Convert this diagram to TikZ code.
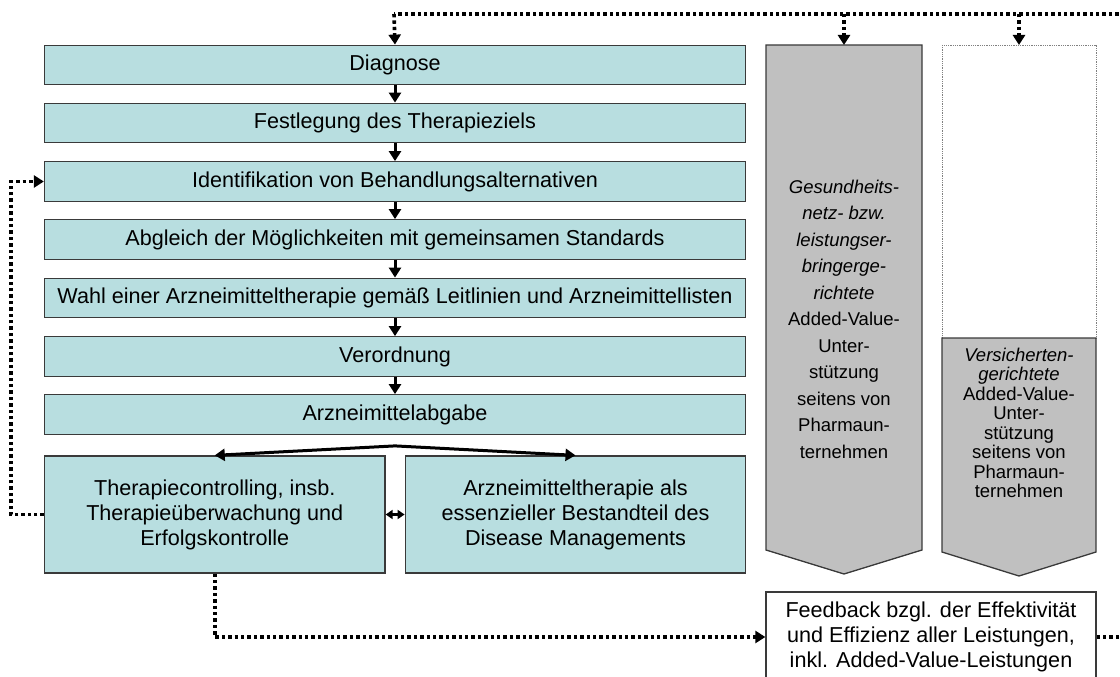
\documentclass[tikz,border=0pt]{standalone}
\usepackage{fontspec}
\setmainfont{Liberation Sans}
\usetikzlibrary{arrows.meta,calc}
\definecolor{boxfill}{RGB}{184,222,224}
\definecolor{boxline}{RGB}{58,58,58}
\definecolor{greyfill}{RGB}{192,192,192}
\begin{document}
\begin{tikzpicture}[x=1pt,y=-1pt,
  flowbox/.style={draw=boxline, fill=boxfill, line width=1.3pt, inner sep=0pt,
    minimum width=701pt, minimum height=39.5pt, text=black,
    font=\fontsize{21.6}{25}\selectfont},
  halfbox/.style={flowbox, minimum width=340.5pt, minimum height=117pt, align=center},
  sidebox/.style={draw=boxline, fill=greyfill, line width=1.3pt, line join=miter},
  sidetext/.style={align=center, text=black, inner sep=0pt},
  conn/.style={line width=3pt, -{Triangle[width=12pt,length=10pt]}},
  dotline/.style={line width=3.6pt, dash pattern=on 3.4pt off 3pt},
  dottip/.style={dotline, -{Triangle[width=12pt,length=10pt]}},
  twoway/.style={line width=2.2pt, {Triangle[width=9pt,length=7pt]}-{Triangle[width=9pt,length=7pt]}}
]
\useasboundingbox (0,0) rectangle (1120,677);

% main process chain
\node[flowbox] (diag) at (395,65)    {Diagnose};
\node[flowbox] (ziel) at (395,123)   {Festlegung des Therapieziels};
\node[flowbox] (ident) at (395,181.5) {Identifikation von Behandlungsalternativen};
\node[flowbox] (abgl) at (395,239.5) {Abgleich der Möglichkeiten mit gemeinsamen Standards};
\node[flowbox] (wahl) at (395,298)   {Wahl einer Arzneimitteltherapie gemäß Leitlinien und Arzneimittellisten};
\node[flowbox] (vo) at (395,356.5)   {Verordnung};
\node[flowbox] (abg) at (395,414.5)  {Arzneimittelabgabe};

\node[halfbox] (ctrl) at (214.75,514.5) {Therapiecontrolling, insb.\\Therapieüberwachung und\\Erfolgskontrolle};
\node[halfbox] (dm) at (575.5,514.5) {Arzneimitteltherapie als\\essenzieller Bestandteil des\\Disease Managements};

\foreach \a/\b in {diag/ziel, ziel/ident, ident/abgl, abgl/wahl, wahl/vo, vo/abg}
  \draw[conn] (\a.south) -- (\b.north);

\coordinate (fork) at ($(abg.south)+(0,11)$);
\draw[conn] (fork) -- (ctrl.north);
\draw[conn] (fork) -- (dm.north);
\draw[twoway] (ctrl.east) -- (dm.west);

% network-oriented added-value support
\draw[sidebox] (766,45) -- (922,45) -- (922,550) -- (844,574) -- (766,550) -- cycle;
\coordinate (a1top) at (844,45);
\node[sidetext, font=\fontsize{18.5}{26.5}\selectfont] (a1txt) at (844,319)
  {\textit{Gesundheits-}\\\textit{netz- bzw.}\\\textit{leistungser-}\\\textit{bringerge-}\\\textit{richtete}\\
   Added-Value-\\Unter-\\stützung\\seitens von\\Pharmaun-\\ternehmen};

% insured-oriented added-value support
\draw[gray, line width=0.8pt, densely dotted] (942,45) rectangle (1096,338);
\coordinate (a2top) at (1019,45);
\draw[sidebox] (942,338) -- (1096,338) -- (1096,552) -- (1019,576) -- (942,552) -- cycle;
\node[sidetext, font=\fontsize{18.5}{19.5}\selectfont] (a2txt) at (1019,423)
  {\textit{Versicherten-}\\\textit{gerichtete}\\Added-Value-\\Unter-\\stützung\\seitens von\\Pharmaun-\\ternehmen};

% feedback
\node[draw=boxline, fill=white, line width=1.3pt, minimum width=330pt, minimum height=90pt,
  inner sep=0pt, align=center, text=black, font=\fontsize{21.6}{25}\selectfont] (fb) at (931,637)
  {Feedback bzgl. der Effektivität\\und Effizienz aller Leistungen,\\inkl. Added-Value-Leistungen};

% dotted feedback loops
\coordinate (topL) at (394,14);
\coordinate (topR) at (1125,14);
\coordinate (leftX) at (11,0);
\coordinate (rightEnd) at (1125,637);
\draw[dotline] (topR) -- (topL);
\draw[dottip] (topL) -- (diag.north);
\draw[dottip] (a1top |- topL) -- (a1top);
\draw[dottip] (a2top |- topL) -- (a2top);
\draw[dottip] (ctrl.west) -- (ctrl.west -| leftX) |- (ident.west);
\draw[dottip] (ctrl.south) |- (fb.west);
\draw[dotline] (fb.east) -- (rightEnd);
\end{tikzpicture}
\end{document}
